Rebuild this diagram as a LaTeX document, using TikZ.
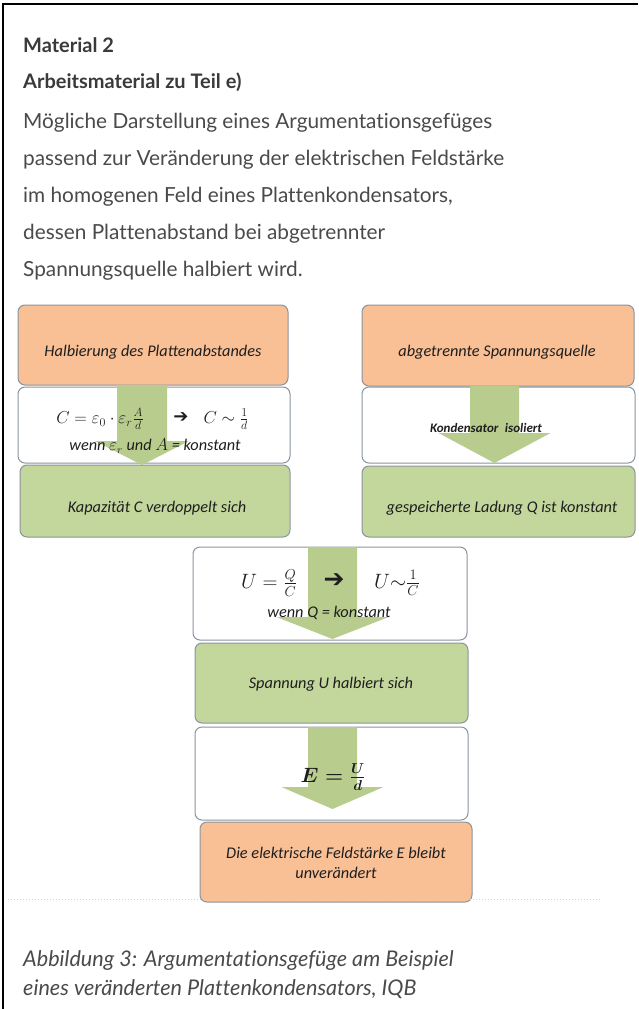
\documentclass[tikz,border=0pt]{standalone}
\usepackage{fontspec}
\usepackage{amsmath}
\setmainfont[Ligatures=NoCommon]{Lato}
\newfontfamily\boxfont{Carlito}
\newfontfamily\symfont{DejaVu Sans}
\usetikzlibrary{calc}
\definecolor{orangefill}{HTML}{F9BF95}
\definecolor{greenfill}{HTML}{C3D69B}
\definecolor{arrowfillc}{HTML}{B8CD8D}
\definecolor{boxline}{HTML}{8A949E}
\definecolor{headtext}{HTML}{3A3A3A}
\definecolor{bodytext}{HTML}{4A4A4A}
\definecolor{boxtext}{HTML}{1E1E1E}
\newcommand\blockarrow[5]{%
  \fill[arrowfillc] let \p1=(#1),\p2=(#2) in
   (\x1-#3,\y1) -- (\x1+#3,\y1) -- (\x1+#3,\y2+#5) -- (\x1+#4,\y2+#5) --
   (\x2,\y2) -- (\x1-#4,\y2+#5) -- (\x1-#3,\y2+#5) -- cycle;}
\begin{document}
\begin{tikzpicture}[x=1pt,y=-1pt,
  box/.style={draw=boxline,line width=1pt,rounded corners=7pt,inner sep=0pt},
  obox/.style={box,fill=orangefill},
  gbox/.style={box,fill=greenfill},
  wbox/.style={box,fill=white},
  btxt/.style={font=\boxfont\itshape\fontsize{16.3}{20}\selectfont,text=boxtext,inner sep=0pt,align=center},
  mtxt/.style={text=boxtext,inner sep=0pt},
  harrow/.style={font=\symfont,text=boxtext,inner sep=0pt},
  headl/.style={font=\bfseries\fontsize{20}{24}\selectfont,text=headtext,anchor=base west,inner sep=0pt},
  bodyl/.style={font=\fontsize{20.8}{24}\selectfont,text=bodytext,anchor=base west,inner sep=0pt},
  captl/.style={font=\itshape\fontsize{21.6}{24}\selectfont,text=bodytext,anchor=base west,inner sep=0pt}]
\useasboundingbox (0,0) rectangle (638,1009);
% frame
\coordinate (fl) at (3,1009);
\coordinate (fc) at (3,4);
\coordinate (fr) at (638,4);
\draw[line width=1.5pt] (fl) -- (fc) -- (fr);
% header
\node[headl] (h1) at (23,52) {Material 2};
\node[headl] (h2) at (23,88) {Arbeitsmaterial zu Teil e)};
\node[bodyl] (b1) at (23,128) {Mögliche Darstellung eines Argumentationsgefüges};
\node[bodyl] (b2) at (23,165) {passend zur Veränderung der elektrischen Feldstärke};
\node[bodyl] (b3) at (23,202) {im homogenen Feld eines Plattenkondensators,};
\node[bodyl] (b4) at (23,239) {dessen Plattenabstand bei abgetrennter};
\node[bodyl] (b5) at (23,276) {Spannungsquelle halbiert wird.};
% boxes
\node[obox,minimum width=270pt,minimum height=80pt] (o1) at (153,345) {};
\node[wbox,minimum width=272pt,minimum height=76pt] (w1) at (154,425) {};
\node[gbox,minimum width=270pt,minimum height=72pt] (g1) at (155,501) {};
\node[obox,minimum width=272pt,minimum height=81pt] (o2) at (498,345.5) {};
\node[wbox,minimum width=273pt,minimum height=76pt] (w2) at (498.5,425) {};
\node[gbox,minimum width=273pt,minimum height=71pt] (g2) at (498.5,501.5) {};
\node[wbox,minimum width=274pt,minimum height=93pt] (w3) at (330,593.5) {};
\node[gbox,minimum width=273pt,minimum height=80pt] (g3) at (331.5,683) {};
\node[wbox,minimum width=273pt,minimum height=93pt] (w4) at (331.5,773.5) {};
\node[obox,minimum width=272pt,minimum height=80pt] (o3) at (336,862) {};
% block arrows
\coordinate (a1s) at (142,385);
\coordinate (a1t) at (142,465);
\coordinate (a2s) at (494.5,386);
\coordinate (a2t) at (494.5,463);
\coordinate (a3s) at (332.5,547);
\coordinate (a3t) at (332.5,639);
\coordinate (a4s) at (332.5,727);
\coordinate (a4t) at (332.5,809);
\blockarrow{a1s}{a1t}{25pt}{47pt}{24pt}
\blockarrow{a2s}{a2t}{24.5pt}{56pt}{30pt}
\blockarrow{a3s}{a3t}{24.5pt}{56pt}{22pt}
\blockarrow{a4s}{a4t}{24.5pt}{51pt}{22pt}
% texts
\node[btxt] (t1) at (153,352) {Halbierung des Plattenabstandes};
\node[mtxt,font=\fontsize{17.5}{19}\selectfont] (m1) at (100,419) {$C=\varepsilon_0\cdot\varepsilon_r\frac{A}{d}$};
\node[harrow,font=\symfont\fontsize{18}{19}\selectfont] (r1) at (181,418) {➔};
\node[mtxt,font=\fontsize{17.5}{19}\selectfont] (m2) at (226,419) {$C\sim\frac{1}{d}$};
\node[btxt] (t2) at (155,446) {wenn $\varepsilon_r$ und $A$ = konstant};
\node[btxt] (t3) at (157,508) {Kapazität C verdoppelt sich};
\node[btxt] (t4) at (497,352) {abgetrennte Spannungsquelle};
\node[btxt,font=\boxfont\bfseries\itshape\fontsize{13}{16}\selectfont] (t5) at (486,428) {Kondensator\enspace isoliert};
\node[btxt] (t6) at (502,508) {gespeicherte Ladung Q ist konstant};
\node[mtxt,font=\fontsize{21}{23}\selectfont] (m3) at (269,583) {$U=\frac{Q}{C}$};
\node[harrow,font=\symfont\fontsize{25}{26}\selectfont] (r2) at (334,581) {➔};
\node[mtxt,font=\fontsize{21}{23}\selectfont] (m4) at (397,583) {$U{\sim}\frac{1}{C}$};
\node[btxt] (t7) at (329,613) {wenn Q = konstant};
\node[btxt] (t8) at (331,684) {Spannung U halbiert sich};
\node[mtxt,font=\fontsize{22}{24}\selectfont] (m5) at (333,777) {$\boldsymbol{E=\frac{U}{d}}$};
\node[btxt] (t9) at (336,863) {Die elektrische Feldstärke E bleibt\\unverändert};
% faint separator
\coordinate (sl) at (8,899);
\coordinate (sr) at (600,899);
\draw[gray!35,dotted,line width=1pt] (sl) -- (sr);
% caption
\node[captl] (c1) at (23,966) {Abbildung 3: Argumentationsgefüge am Beispiel};
\node[captl] (c2) at (23,995) {eines veränderten Plattenkondensators, IQB};
\end{tikzpicture}
\end{document}
